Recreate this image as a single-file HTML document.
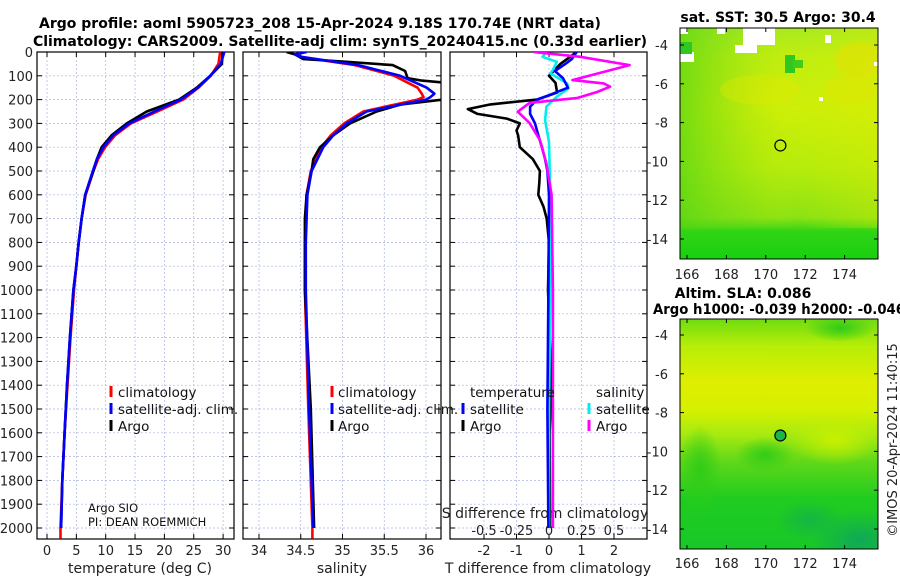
<!DOCTYPE html>
<html><head><meta charset="utf-8"><style>
body{margin:0;background:#fff}
svg{display:block;font-family:"DejaVu Sans","Liberation Sans",sans-serif}
.tk{font-size:13px;fill:#222}
.tt{font-size:14px;font-weight:bold;fill:#000}
.lg{font-size:13.5px;fill:#111}
</style></head><body>
<svg id="chart" width="900" height="580" viewBox="0 0 900 580">
<defs>
<clipPath id="c1"><rect x="37" y="52" width="197" height="487"/></clipPath>
<clipPath id="c2"><rect x="243" y="52" width="198" height="487"/></clipPath>
<clipPath id="c3"><rect x="450" y="52" width="197" height="487"/></clipPath>
<clipPath id="m1"><rect x="680" y="28" width="198" height="231"/></clipPath>
<clipPath id="m2"><rect x="680" y="319" width="198" height="230"/></clipPath>
<linearGradient id="g1" x1="0" y1="0" x2="0" y2="1">
<stop offset="0" stop-color="#a8ea20"/><stop offset="0.12" stop-color="#c0ee10"/><stop offset="0.35" stop-color="#cdef08"/><stop offset="0.6" stop-color="#b6ec0c"/><stop offset="0.82" stop-color="#8ce214"/><stop offset="0.88" stop-color="#30d414"/><stop offset="1" stop-color="#18d010"/></linearGradient>
<linearGradient id="g1h" x1="0" y1="0" x2="1" y2="0">
<stop offset="0" stop-color="#50d414" stop-opacity="0.7"/><stop offset="0.35" stop-color="#70d814" stop-opacity="0.2"/><stop offset="0.6" stop-color="#e0ec00" stop-opacity="0"/><stop offset="1" stop-color="#e4ea00" stop-opacity="0.3"/></linearGradient>
<linearGradient id="g2" x1="0" y1="0" x2="0" y2="1">
<stop offset="0" stop-color="#70dc10"/><stop offset="0.12" stop-color="#b8ee08"/><stop offset="0.28" stop-color="#e0ee00"/><stop offset="0.4" stop-color="#d4f000"/><stop offset="0.5" stop-color="#a8ea10"/><stop offset="0.62" stop-color="#60d818"/><stop offset="0.78" stop-color="#20cc20"/><stop offset="1" stop-color="#18c828"/></linearGradient>
<radialGradient id="r1"><stop offset="0" stop-color="#10a858"/><stop offset="1" stop-color="#10a858" stop-opacity="0"/></radialGradient>
<radialGradient id="r2"><stop offset="0" stop-color="#30cc18"/><stop offset="1" stop-color="#30cc18" stop-opacity="0"/></radialGradient>
<radialGradient id="r3"><stop offset="0" stop-color="#c8f000"/><stop offset="1" stop-color="#c8f000" stop-opacity="0"/></radialGradient>
</defs>
<text class="tt" x="320" y="28" text-anchor="middle">Argo profile: aoml 5905723_208 15-Apr-2024 9.18S 170.74E (NRT data)</text>
<text class="tt" x="340" y="46" text-anchor="middle">Climatology: CARS2009. Satellite-adj clim: synTS_20240415.nc (0.33d earlier)</text>
<g id="axes"></g>
<g id="legends">
<line x1="111" y1="386" x2="111" y2="397" stroke="#f00" stroke-width="3"/>
<text class="lg" x="118" y="397">climatology</text>
<line x1="111" y1="403" x2="111" y2="414" stroke="#00f" stroke-width="3"/>
<text class="lg" x="118" y="414">satellite-adj. clim.</text>
<line x1="111" y1="420" x2="111" y2="431" stroke="#000" stroke-width="3"/>
<text class="lg" x="118" y="431">Argo</text>
<line x1="332" y1="386" x2="332" y2="397" stroke="#f00" stroke-width="3"/>
<text class="lg" x="338" y="397">climatology</text>
<line x1="332" y1="403" x2="332" y2="414" stroke="#00f" stroke-width="3"/>
<text class="lg" x="338" y="414">satellite-adj. clim.</text>
<line x1="332" y1="420" x2="332" y2="431" stroke="#000" stroke-width="3"/>
<text class="lg" x="338" y="431">Argo</text>
<text class="lg" x="470" y="397">temperature</text>
<line x1="463" y1="403" x2="463" y2="414" stroke="#00f" stroke-width="3"/>
<text class="lg" x="470" y="414">satellite</text>
<line x1="463" y1="420" x2="463" y2="431" stroke="#000" stroke-width="3"/>
<text class="lg" x="470" y="431">Argo</text>
<text class="lg" x="596" y="397">salinity</text>
<line x1="589" y1="403" x2="589" y2="414" stroke="#0ee" stroke-width="3"/>
<text class="lg" x="596" y="414">satellite</text>
<line x1="589" y1="420" x2="589" y2="431" stroke="#f0f" stroke-width="3"/>
<text class="lg" x="596" y="431">Argo</text>
<text x="88" y="512" font-size="11.5" fill="#111">Argo SIO</text>
<text x="88" y="526" font-size="11.5" fill="#111">PI: DEAN ROEMMICH</text>
</g>
<g id="maps">
<text class="tt" x="778" y="22" text-anchor="middle">sat. SST: 30.5 Argo: 30.4</text>
<g>
<g clip-path="url(#m1)">
<rect x="680" y="28" width="198" height="231" fill="url(#g1)"/>
<rect x="680" y="28" width="198" height="200" fill="url(#g1h)"/>
<ellipse cx="860" cy="60" rx="25" ry="18" fill="#e8e000" opacity="0.5"/>
<ellipse cx="760" cy="90" rx="40" ry="15" fill="#e4e800" opacity="0.35"/>
<ellipse cx="850" cy="90" rx="25" ry="15" fill="#e4e400" opacity="0.4"/>
<rect x="680" y="28" width="8" height="6" fill="#fff"/><rect x="717" y="28" width="8" height="6" fill="#fff"/>
<rect x="743" y="28" width="32" height="17" fill="#fff"/><rect x="735" y="45" width="22" height="8" fill="#fff"/>
<rect x="680" y="52" width="14" height="10" fill="#fff"/><rect x="825" y="35" width="6" height="8" fill="#fff"/>
<rect x="819" y="97" width="4" height="4" fill="#fff"/><rect x="874" y="62" width="4" height="4" fill="#fff"/>
<rect x="680" y="42" width="12" height="12" fill="#30c820"/><rect x="785" y="55" width="10" height="18" fill="#30c820"/>
<rect x="793" y="60" width="10" height="8" fill="#40cc18"/>
</g>
<rect x="680" y="28" width="198" height="231" fill="none" stroke="#000"/>
</g>
<text class="tt" x="743" y="298" text-anchor="middle">Altim. SLA: 0.086</text>
<text class="tt" x="653" y="314" textLength="252" lengthAdjust="spacingAndGlyphs">Argo h1000: -0.039 h2000: -0.046</text>
<g>
<g clip-path="url(#m2)">
<rect x="680" y="319" width="198" height="230" fill="url(#g2)"/>
<ellipse cx="700" cy="470" rx="22" ry="45" fill="url(#r2)"/>
<ellipse cx="835" cy="440" rx="45" ry="25" fill="url(#r3)"/>
<ellipse cx="860" cy="540" rx="50" ry="30" fill="url(#r1)"/>
<ellipse cx="810" cy="520" rx="35" ry="20" fill="url(#r1)" opacity="0.6"/>
<ellipse cx="765" cy="455" rx="30" ry="18" fill="url(#r2)"/>
<ellipse cx="840" cy="328" rx="35" ry="14" fill="url(#r2)"/>
</g>
<rect x="680" y="319" width="198" height="230" fill="none" stroke="#000"/>
</g>
<g id="mapticks"></g>
<text x="893" y="440" font-size="13" fill="#222" text-anchor="middle" transform="rotate(-90 893 440)" dy="4">©IMOS 20-Apr-2024 11:40:15</text>
</g>
</svg>
<script>
const depthTicks=[0,100,200,300,400,500,600,700,800,900,1000,1100,1200,1300,1400,1500,1600,1700,1800,1900,2000];
const tempTicks=[0,5,10,15,20,25,30];
const salTicks=[34,34.5,35,35.5,36];
const salTickLabels=["34","34.5","35","35.5","36"];
const tdTicks=[-2,-1,0,1,2];
const sdTicks=[-0.5,-0.25,0,0.25,0.5];
const sdTickLabels=["-0.5","-0.25","0","0.25","0.5"];
const lonTicks=[166,168,170,172,174];
const latTicks=[-4,-6,-8,-10,-12,-14];
const floatLon=170.74;
const floatLat=-9.18;

const tDepth=[0,50,100,150,200,250,300,350,400,450,500,600,700,800,900,1000,1200,1400,1600,1800,2000];
const tClim=[29.5,29.2,27.9,25.8,23.2,18.8,14.3,11.6,9.9,8.7,7.9,6.6,5.9,5.4,5.0,4.6,4.0,3.5,3.0,2.6,2.3];
const tSat=[30.2,29.6,27.8,25.7,22.8,18.3,14.0,11.3,9.6,8.5,7.8,6.5,5.9,5.4,5.0,4.5,3.9,3.4,3.0,2.6,2.4];
const tArgo=[29.9,29.8,27.8,25.5,22.5,17.0,13.6,11.0,9.3,8.5,7.9,6.5,5.9,5.4,5.0,4.5,3.9,3.4,3.0,2.6,2.4];
const sDepthA=[0,10,30,40,55,80,110,120,130,150,200,220,250,300,350,400,450,500,600,700,1000,1500,2000];
const sArgo=[34.33,34.43,34.53,35.0,35.6,35.75,35.78,35.95,36.25,36.25,36.2,35.7,35.41,35.09,34.89,34.73,34.65,34.63,34.57,34.55,34.55,34.62,34.66];
const sDepthC=[0,10,20,40,55,100,150,175,190,200,250,300,350,400,500,600,800,1000,1500,2000,2045];
const sSat=[34.57,34.43,34.5,34.89,35.19,35.69,36.01,36.1,36.05,36.0,35.29,35.05,34.89,34.77,34.63,34.58,34.56,34.56,34.6,34.65,34.65];
const sClim=[34.55,34.43,34.5,34.85,35.15,35.62,35.9,35.95,35.97,35.9,35.25,35.02,34.86,34.75,34.62,34.57,34.55,34.55,34.59,34.64,34.64];
const dtDepthA=[0,50,100,130,170,200,220,240,260,280,300,330,350,400,450,500,550,600,650,700,800,1000,1300,1400,1600,2000];
const dtArgo=[0.85,0.35,0.0,0.2,0.25,-0.37,-1.8,-2.5,-2.2,-1.3,-0.9,-1.0,-0.95,-0.9,-0.5,-0.28,-0.3,-0.33,-0.17,-0.07,0,-0.03,0.05,0.08,0.02,0.03];
const dtDepthS=[0,30,50,80,110,150,180,200,230,260,300,350,400,450,500,600,1000,1500,2000];
const dtSat=[0.85,0.7,0.5,0.18,0.43,0.58,0.03,-0.37,-0.58,-0.58,-0.43,-0.33,-0.22,-0.12,-0.05,0,-0.02,-0.05,-0.02];
const dsDepthA=[0,20,55,118,132,146,168,193,214,251,298,370,468,600,1000,1500,2000];
const dsArgo=[-0.12,0.24,0.62,0.18,0.42,0.47,0.37,0.22,-0.15,-0.24,-0.15,-0.07,-0.02,0.02,0.03,0.03,0.03];
const dsDepthS=[0,20,41,76,90,132,153,188,230,286,378,600,1000,1500,2000];
const dsSat=[-0.02,-0.05,0.06,0.03,0.01,0.14,0.15,0.06,-0.02,-0.03,0.0,0.01,0.01,0.0,0.0];

const NS='http://www.w3.org/2000/svg';
const gAx=document.getElementById('axes');
const yD=d=>52+d*0.238;
const xT=v=>47+v*5.87;
const xS=v=>259+(v-34)*83.5;
const xTD=v=>549+v*32.5;
const xSD=v=>549+v*130;
function mk(tag,attrs,parent){const e=document.createElementNS(NS,tag);for(const k in attrs)e.setAttribute(k,attrs[k]);(parent||gAx).appendChild(e);return e;}
const panels=[{x:37,w:197},{x:243,w:198},{x:450,w:197}];
const yTop=52,yBot=539;
panels.forEach((p,i)=>{
  const fr=mk('g',{});
  
  
  depthTicks.forEach(d=>{
    const y=yD(d);
    const l=mk('line',{x1:p.x,x2:p.x+p.w,y1:y,y2:y,stroke:'#aab4e0','stroke-width':0.7,'stroke-dasharray':'2,2'},fr);
    
    
    mk('line',{x1:p.x,x2:p.x+5,y1:y,y2:y,stroke:'#000'},fr);
    mk('line',{x1:p.x+p.w-5,x2:p.x+p.w,y1:y,y2:y,stroke:'#000'},fr);
  });
  const ticks=i==0?tempTicks.map(xT):i==1?salTicks.map(xS):tdTicks.map(xTD);
  ticks.forEach(x=>{
    const l=mk('line',{x1:x,x2:x,y1:yTop,y2:yBot,stroke:'#aab4e0','stroke-width':0.7,'stroke-dasharray':'2,2'},fr);
    
    
    mk('line',{x1:x,x2:x,y1:yTop,y2:yTop+5,stroke:'#000'},fr);
    mk('line',{x1:x,x2:x,y1:yBot-5,y2:yBot,stroke:'#000'},fr);
  });
  const r=mk('rect',{x:p.x,y:yTop,width:p.w,height:yBot-yTop,fill:'none',stroke:'#000','stroke-width':1.2},fr);
  
  
});
depthTicks.forEach(d=>{
  const t=mk('text',{x:33,y:yD(d)+5,'text-anchor':'end',class:'tk'});
  t.textContent=d;
  
  
});
function xlab(vals,labels,fx,y){vals.forEach((v,i)=>{const t=mk('text',{x:fx(v),y:y,'text-anchor':'middle',class:'tk'});t.textContent=labels?labels[i]:v;
  
  });}
xlab(tempTicks,null,xT,555);
xlab(salTicks,salTickLabels,xS,555);
xlab(tdTicks,null,xTD,555);
xlab(sdTicks,sdTickLabels,xSD,535);
function title(txt,x,y,name){const t=mk('text',{x:x,y:y,'text-anchor':'middle',class:'tk',style:'font-size:14px'});t.textContent=txt;
  
  }
title('temperature (deg C)',140,573,'temperature-axis-title');
title('salinity',342,573,'salinity-axis-title');
title('T difference from climatology',548,573,'t-diff-axis-title');
title('S difference from climatology',545,518,'s-diff-axis-title');
function line(depths,vals,fx,color,clip,name,w){
  const pts=depths.map((d,i)=>fx(vals[i]).toFixed(1)+','+yD(d).toFixed(1)).join(' ');
  const pl=mk('polyline',{points:pts,fill:'none',stroke:color,'stroke-width':w||2.6,'stroke-linejoin':'round','clip-path':'url(#'+clip+')'});
  
  
}
line(tDepth.concat([2045]),tClim.concat([2.3]),xT,'#f00','c1','temp-climatology-line');
line(tDepth,tArgo,xT,'#000','c1','temp-argo-line');
line(tDepth,tSat,xT,'#00f','c1','temp-satellite-line');
line(sDepthC,sClim,xS,'#f00','c2','sal-climatology-line');
line(sDepthA,sArgo,xS,'#000','c2','sal-argo-line');
line(sDepthC.slice(0,-1),sSat.slice(0,-1),xS,'#00f','c2','sal-satellite-line');
line(dtDepthA,dtArgo,xTD,'#000','c3','tdiff-argo-line');
line(dsDepthS,dsSat,xSD,'#0ee','c3','sdiff-satellite-line');
line(dtDepthS,dtSat,xTD,'#00f','c3','tdiff-satellite-line');
line(dsDepthA,dsArgo,xSD,'#f0f','c3','sdiff-argo-line');
const mt=document.getElementById('mapticks');
const xLon=v=>687+(v-166)*19.7;
const maps=[{top:28,bot:259,lat4:45,lab:279,fill:'none'},{top:319,bot:549,lat4:335,lab:568,fill:'#18b848'}];
maps.forEach((m,mi)=>{
  const yLat=v=>m.lat4+(-4-v)*19.4;
  lonTicks.forEach(v=>{
    const t=mk('text',{x:xLon(v),y:m.lab,'text-anchor':'middle',class:'tk'},mt);t.textContent=v;
    
    
    mk('line',{x1:xLon(v),x2:xLon(v),y1:m.bot,y2:m.bot-4,stroke:'#000'},mt);
    mk('line',{x1:xLon(v),x2:xLon(v),y1:m.top,y2:m.top+4,stroke:'#000'},mt);
  });
  latTicks.forEach(v=>{
    const y=yLat(v);
    const t=mk('text',{x:668,y:y+5,'text-anchor':'end',class:'tk'},mt);t.textContent=v;
    
    
    mk('line',{x1:680,x2:684,y1:y,y2:y,stroke:'#000'},mt);
    mk('line',{x1:874,x2:878,y1:y,y2:y,stroke:'#000'},mt);
  });
  const c=mk('circle',{cx:xLon(floatLon),cy:yLat(floatLat),r:5.5,fill:m.fill,stroke:'#000','stroke-width':1.2},mt);
  
  
});
</script>
</body></html>
